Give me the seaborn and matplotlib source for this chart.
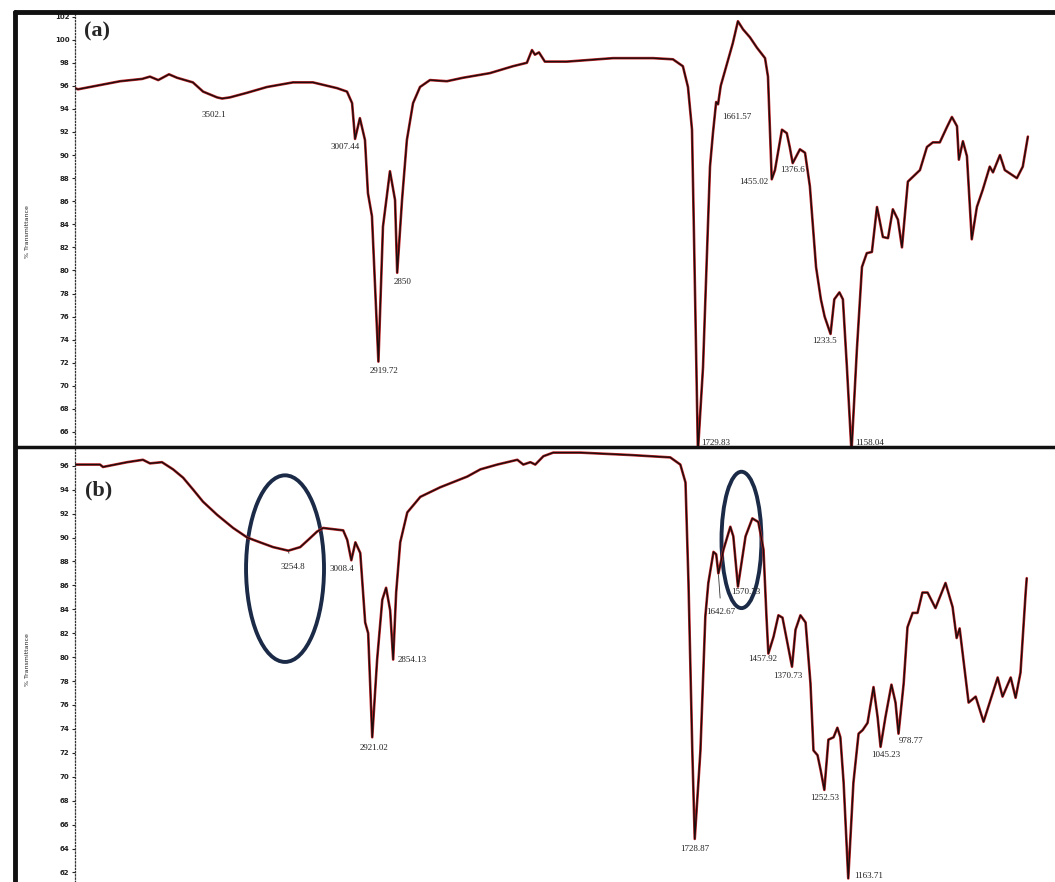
"""FTIR spectra (a) and (b), % transmittance vs wavenumber, drawn with seaborn."""
import matplotlib
matplotlib.use("Agg")
import matplotlib.pyplot as plt
import seaborn as sns
from matplotlib.lines import Line2D
from matplotlib.patches import Ellipse

# ---- spectrum (a) : wavenumber (cm-1) and % transmittance
a_wn = [4050, 4039, 3882, 3800, 3771, 3740, 3700, 3670, 3611, 3573, 3521, 3502,
        3473, 3409, 3335, 3238, 3164, 3074, 3037, 3018, 3007, 2989, 2970, 2959,
        2944, 2920, 2903, 2877, 2858, 2850, 2832, 2814, 2791, 2765, 2728, 2665,
        2605, 2505, 2419, 2367, 2348, 2337, 2322, 2300, 2218, 2046, 1897, 1823,
        1786, 1767, 1752, 1745, 1730, 1711, 1685, 1674, 1662, 1655, 1645, 1600,
        1581, 1562, 1536, 1510, 1480, 1469, 1455, 1443, 1417, 1399, 1388, 1377,
        1350, 1331, 1313, 1290, 1272, 1258, 1236, 1222, 1203, 1190, 1175, 1158,
        1138, 1119, 1101, 1082, 1063, 1041, 1022, 1004, 985, 970, 948, 903, 877,
        855, 829, 803, 784, 765, 758, 743, 728, 710, 691, 669, 643, 631, 605,
        587, 542, 520, 501]
a_T = [95.8, 95.7, 96.4, 96.6, 96.8, 96.5, 97.0, 96.7, 96.3, 95.5, 95.0, 94.9,
       95.0, 95.4, 95.9, 96.3, 96.3, 95.8, 95.5, 94.5, 91.4, 93.2, 91.3, 86.7,
       84.7, 72.1, 83.8, 88.6, 86.1, 79.8, 86.1, 91.3, 94.5, 95.9, 96.5, 96.4,
       96.7, 97.1, 97.7, 98.0, 99.1, 98.7, 98.9, 98.1, 98.1, 98.4, 98.4, 98.3,
       97.7, 95.9, 92.2, 83.5, 64.3, 71.6, 89.0, 91.9, 94.6, 94.4, 96.0, 99.7,
       101.6, 100.9, 100.2, 99.3, 98.4, 96.8, 87.9, 88.7, 92.2, 91.9, 90.7, 89.3,
       90.5, 90.2, 87.3, 80.3, 77.5, 76.0, 74.5, 77.5, 78.1, 77.5, 71.6, 64.3,
       73.1, 80.3, 81.5, 81.6, 85.5, 82.9, 82.8, 85.3, 84.4, 82.0, 87.7, 88.7,
       90.7, 91.1, 91.1, 92.4, 93.3, 92.5, 89.6, 91.2, 89.9, 82.7, 85.5, 87.0,
       89.0, 88.5, 90.0, 88.7, 88.0, 89.0, 91.6]

# ---- spectrum (b)
b_wn = [4010, 3918, 3907, 3818, 3760, 3734, 3690, 3649, 3612, 3575, 3539, 3487,
        3428, 3376, 3329, 3281, 3225, 3181, 3152, 3119, 3097, 3023, 3008, 2993,
        2978, 2960, 2942, 2931, 2916, 2898, 2879, 2865, 2850, 2839, 2828, 2813,
        2787, 2739, 2666, 2566, 2518, 2456, 2382, 2360, 2334, 2316, 2286, 2250,
        2150, 1966, 1819, 1782, 1763, 1752, 1738, 1729, 1708, 1690, 1679, 1660,
        1650, 1642, 1623, 1598, 1587, 1570, 1542, 1517, 1495, 1476, 1465, 1458,
        1439, 1421, 1406, 1388, 1371, 1358, 1340, 1321, 1303, 1292, 1277, 1266,
        1252, 1237, 1218, 1204, 1193, 1181, 1164, 1145, 1126, 1111, 1093, 1071,
        1056, 1045, 1027, 1005, 990, 979, 960, 946, 927, 909, 891, 872, 843, 806,
        780, 765, 754, 721, 695, 666, 614, 596, 566, 548, 530, 511, 507]
b_T = [96.1, 96.1, 95.9, 96.3, 96.5, 96.2, 96.3, 95.7, 95.0, 94.0, 93.0, 91.9,
       90.8, 90.0, 89.6, 89.2, 88.9, 89.2, 89.8, 90.5, 90.8, 90.6, 89.8, 88.1,
       89.6, 88.7, 82.9, 82.0, 73.3, 79.8, 84.8, 85.8, 83.9, 79.8, 85.4, 89.6,
       92.1, 93.4, 94.2, 95.1, 95.7, 96.1, 96.5, 96.1, 96.3, 96.1, 96.8, 97.1,
       97.1, 96.9, 96.7, 96.1, 94.6, 86.2, 72.2, 64.8, 72.2, 83.4, 86.2, 88.8,
       88.6, 87.0, 89.0, 90.9, 90.1, 85.9, 90.1, 91.6, 91.3, 89.0, 83.4, 80.3,
       81.7, 83.5, 83.3, 81.2, 79.2, 82.3, 83.5, 82.9, 77.8, 72.2, 71.8, 70.6,
       68.9, 73.1, 73.3, 74.1, 73.3, 69.5, 61.5, 69.5, 73.6, 73.9, 74.5, 77.5,
       75.0, 72.5, 75.0, 77.7, 76.2, 73.6, 77.8, 82.5, 83.7, 83.7, 85.4, 85.4,
       84.1, 86.2, 84.2, 81.6, 82.4, 76.2, 76.7, 74.6, 78.3, 76.7, 78.3, 76.6,
       78.7, 85.4, 86.6]

# ---- peak picks: label, wavenumber, transmittance, text offset (points)
a_peaks = [("3502.1", 3502, 94.9, -6, -12), ("3007.44", 3007, 91.4, -7, -6),
           ("2919.72", 2920, 72.1, 4, -7), ("2850", 2850, 79.8, 4, -7),
           ("1729.83", 1730, 64.3, 13, 6), ("1661.57", 1662, 94.6, 15, -11),
           ("1455.02", 1455, 87.9, -13, -2), ("1376.6", 1377, 89.3, 0, -5),
           ("1233.5", 1236, 74.5, -4, -5), ("1158.04", 1158, 64.3, 13, 6)]
b_peaks = [("3254.8", 3225, 88.9, 3, -12), ("3008.4", 2993, 88.1, -7, -6),
           ("2921.02", 2916, 73.3, 1, -8), ("2854.13", 2839, 79.8, 14, 0),
           ("1728.87", 1729, 64.8, 0, -7), ("1642.67", 1642, 87.0, 2, -28),
           ("1570.73", 1570, 85.9, 6, -4), ("1457.92", 1458, 80.3, -4, -4),
           ("1370.73", 1371, 79.2, -3, -7), ("1252.53", 1252, 68.9, 0, -6),
           ("1163.71", 1164, 61.5, 15, 2), ("1045.23", 1045, 72.5, 4, -6),
           ("978.77", 979, 73.6, 9, -5)]
leader_lines = {"3254.8", "1642.67"}

a_ticks = list(range(66, 103, 2))
b_ticks = list(range(62, 97, 2))

sns.set_style("white")
plt.rcParams["font.family"] = ["DejaVu Sans"]

fig = plt.figure(figsize=(10.55, 8.82), dpi=100)
ax_a = fig.add_axes([0.0711, 0.4932, 0.9289, 0.4932])
ax_b = fig.add_axes([0.0711, 0.0, 0.9289, 0.4909])


def draw_spectrum(ax, wn, T, peaks, ticks, xlim, ylim):
    # red under-stroke gives the reddish fringe of the scanned trace
    sns.lineplot(x=wn, y=T, ax=ax, color="#c0262a", lw=1.9, estimator=None,
                 solid_joinstyle="round")
    sns.lineplot(x=wn, y=T, ax=ax, color="#1c0d0d", lw=1.0, estimator=None,
                 solid_joinstyle="round")
    ax.set_xlim(*xlim)
    ax.set_ylim(*ylim)
    ax.set_xticks([])
    ax.set_yticks(ticks)
    ax.set_yticklabels([str(t) for t in ticks], fontsize=5, fontweight="bold",
                       color="#222222")
    ax.tick_params(axis="y", length=2, width=0.8, pad=2, left=True)
    for side in ("top", "right", "bottom"):
        ax.spines[side].set_visible(False)
    ax.spines["left"].set_linestyle((0, (1, 1.6)))
    ax.spines["left"].set_linewidth(0.9)
    ax.spines["left"].set_color("#333333")
    ax.set_xlabel("")
    ax.set_ylabel("")
    for label, w, t, dx, dy in peaks:
        arrow = dict(arrowstyle="-", lw=0.6, color="#333333",
                     shrinkA=5, shrinkB=1) if label in leader_lines else None
        ax.annotate(label, xy=(w, t), xytext=(dx, dy), textcoords="offset points",
                    ha="center", va="center", fontsize=6.5, color="#222222",
                    family=["Liberation Serif"], arrowprops=arrow,
                    annotation_clip=False)


draw_spectrum(ax_a, a_wn, a_T, a_peaks, a_ticks, (4050, 400), (64.7, 102.4))
draw_spectrum(ax_b, b_wn, b_T, b_peaks, b_ticks, (4010, 403), (61.2, 97.4))

ax_a.text(0.009, 0.955, "(a)", transform=ax_a.transAxes, ha="left", va="center",
          fontsize=16, fontweight="bold", family=["Liberation Serif"])
ax_b.text(0.010, 0.905, "(b)", transform=ax_b.transAxes, ha="left", va="center",
          fontsize=16, fontweight="bold", family=["Liberation Serif"])

for ycen in (0.737, 0.252):
    fig.text(0.0265, ycen, "% Transmittance", rotation=90, ha="center",
             va="center", fontsize=4.5, color="#222222")

# circled regions in spectrum (b)
for cx, cy, w, h in [(3237, 87.4, 287, 15.6), (1557, 89.8, 147, 11.4)]:
    ax_b.add_patch(Ellipse((cx, cy), w, h, fill=False, ec="#1b2a47", lw=2.8,
                           clip_on=False))

# thick frame of the scanned figure
for xs, ys, lw in [([0.0142, 0.0142], [0.0, 0.9864], 3.5),
                   ([0.0142, 1.0], [0.9864, 0.9864], 3.5),
                   ([0.0142, 1.0], [0.4932, 0.4932], 2.5)]:
    fig.add_artist(Line2D(xs, ys, color="#111111", lw=lw,
                          transform=fig.transFigure))

fig.savefig("out.png", dpi=100)
plt.close(fig)
